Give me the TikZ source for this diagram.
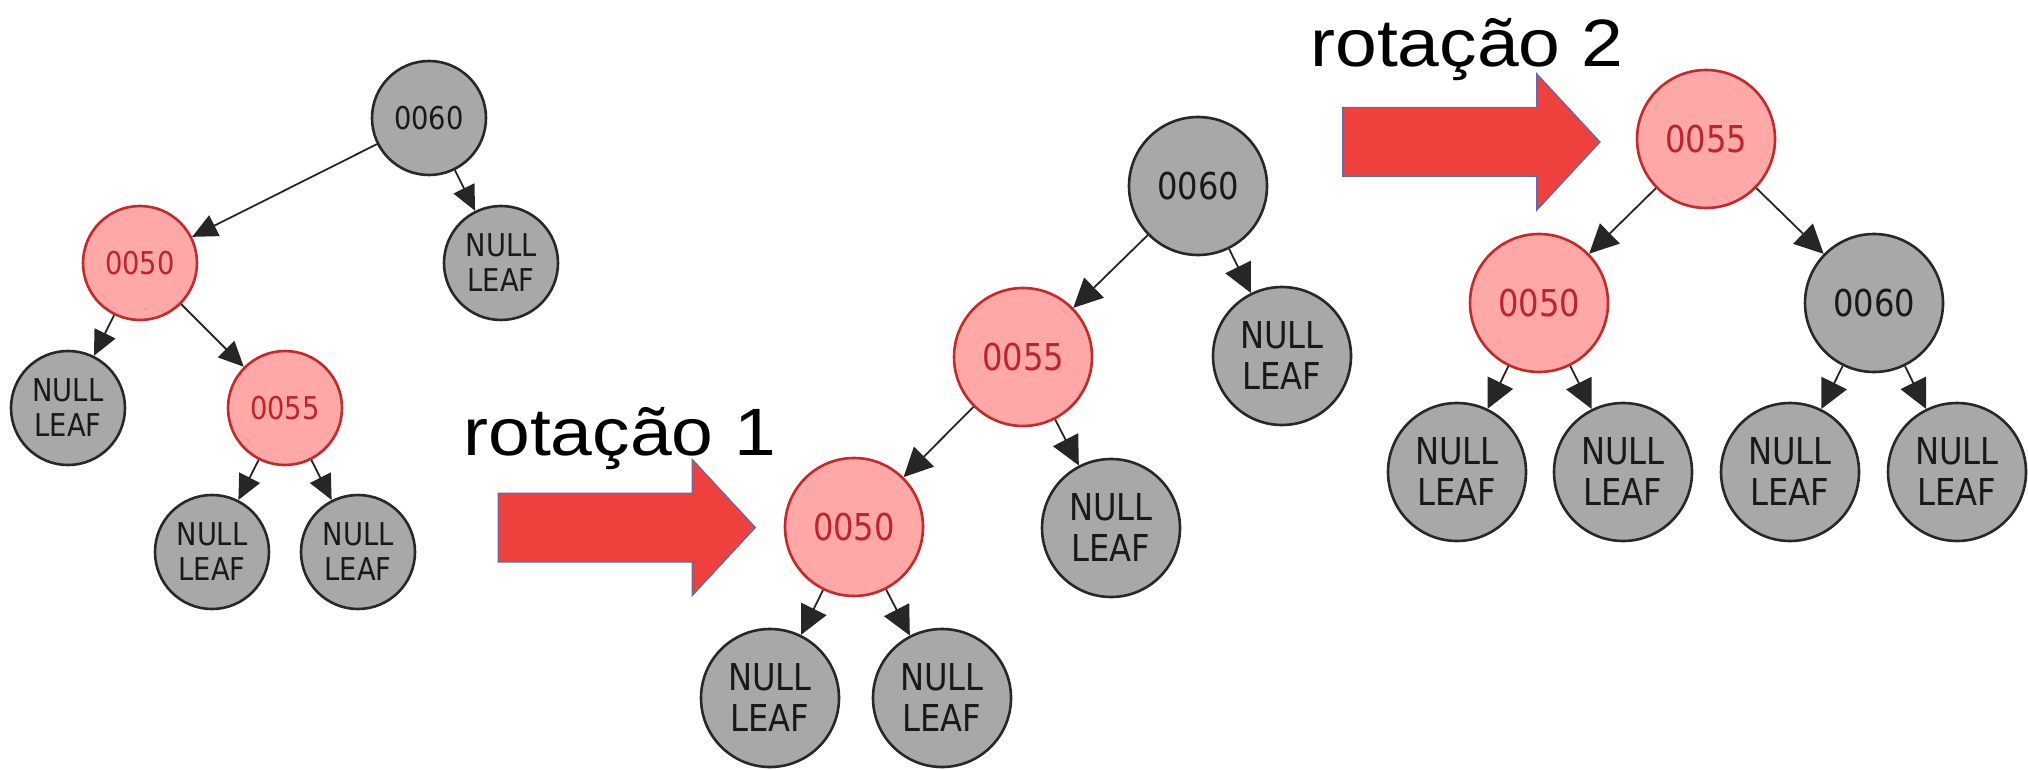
\documentclass[tikz,border=0pt]{standalone}
\usepackage{fontspec}
\usepackage{tikz}
\usetikzlibrary{arrows.meta}
\newfontfamily\nodefont[FakeStretch=0.87]{DejaVu Sans}
\newfontfamily\rotfont[FakeStretch=1.12]{Liberation Sans}
\definecolor{nodegray}{RGB}{168,168,168}
\definecolor{nodeborder}{RGB}{40,40,40}
\definecolor{redfill}{RGB}{255,168,168}
\definecolor{redborder}{RGB}{200,40,40}
\definecolor{redtext}{RGB}{190,36,44}
\definecolor{arrowred}{RGB}{238,64,60}
\definecolor{arrowblue}{RGB}{68,114,196}
\tikzset{
    graynode/.style={circle, draw=nodeborder, fill=nodegray, line width=1.3pt, inner sep=0pt, text=black!90, align=center},
    rednode/.style={circle, draw=redborder, fill=redfill, line width=1.3pt, inner sep=0pt, text=redtext, align=center},
    sm/.style={minimum size=57pt, font=\nodefont\fontsize{15.7}{17.5}\selectfont},
    lg/.style={minimum size=69pt, font=\nodefont\fontsize{18.5}{20.5}\selectfont},
    link/.style={-{Triangle[length=12.5pt, width=11.5pt]}, line width=0.9pt, draw=black!85},
    linklg/.style={link, -{Triangle[length=14.5pt, width=14pt]}},
    bigarrow/.style={fill=arrowred, draw=arrowblue, line width=0.5pt},
    rot/.style={font=\rotfont\fontsize{33.5}{40}\selectfont, inner sep=0pt, anchor=base west}
}
\begin{document}
\begin{tikzpicture}[x=0.5pt, y=-0.5pt]
    \useasboundingbox (0,0) rectangle (2028,770);

    % arvore inicial
    \node[graynode, sm] (a60) at (429,118) {0060};
    \node[rednode, sm]  (a50) at (140,263) {0050};
    \node[graynode, sm] (an1) at (501,263) {NULL\\LEAF};
    \node[graynode, sm] (an2) at (68,408)  {NULL\\LEAF};
    \node[rednode, sm]  (a55) at (285,408) {0055};
    \node[graynode, sm] (an3) at (212,552) {NULL\\LEAF};
    \node[graynode, sm] (an4) at (358,552) {NULL\\LEAF};
    \draw[link] (a60) -- (a50); \draw[link] (a60) -- (an1);
    \draw[link] (a50) -- (an2); \draw[link] (a50) -- (a55);
    \draw[link] (a55) -- (an3); \draw[link] (a55) -- (an4);

    % depois da rotacao 1
    \node[graynode, lg] (b60) at (1198,186) {0060};
    \node[rednode, lg]  (b55) at (1023,357) {0055};
    \node[graynode, lg] (bn1) at (1282,356) {NULL\\LEAF};
    \node[rednode, lg]  (b50) at (854,527)  {0050};
    \node[graynode, lg] (bn2) at (1111,528) {NULL\\LEAF};
    \node[graynode, lg] (bn3) at (770,698)  {NULL\\LEAF};
    \node[graynode, lg] (bn4) at (942,698)  {NULL\\LEAF};
    \draw[linklg] (b60) -- (b55); \draw[linklg] (b60) -- (bn1);
    \draw[linklg] (b55) -- (b50); \draw[linklg] (b55) -- (bn2);
    \draw[linklg] (b50) -- (bn3); \draw[linklg] (b50) -- (bn4);

    % depois da rotacao 2
    \node[rednode, lg]  (c55) at (1706,139) {0055};
    \node[rednode, lg]  (c50) at (1539,303) {0050};
    \node[graynode, lg] (c60) at (1874,303) {0060};
    \node[graynode, lg] (cn1) at (1457,472) {NULL\\LEAF};
    \node[graynode, lg] (cn2) at (1623,472) {NULL\\LEAF};
    \node[graynode, lg] (cn3) at (1790,472) {NULL\\LEAF};
    \node[graynode, lg] (cn4) at (1957,472) {NULL\\LEAF};
    \draw[linklg] (c55) -- (c50); \draw[linklg] (c55) -- (c60);
    \draw[linklg] (c50) -- (cn1); \draw[linklg] (c50) -- (cn2);
    \draw[linklg] (c60) -- (cn3); \draw[linklg] (c60) -- (cn4);

    % setas grandes e rotulos
    \coordinate (arr1) at (498,527.5);
    \coordinate (arr2) at (1342.6,142);
    \foreach \p in {arr1, arr2}
        \draw[bigarrow] (\p) ++(0,-34.5) -- ++(194,0) -- ++(0,-34) -- ++(63.5,68.5)
            -- ++(-63.5,68.5) -- ++(0,-34) -- ++(-194,0) -- cycle;
    \node[rot] (rot1) at (463,455) {rotação 1};
    \node[rot] (rot2) at (1310,66.7) {rotação 2};
\end{tikzpicture}
\end{document}
